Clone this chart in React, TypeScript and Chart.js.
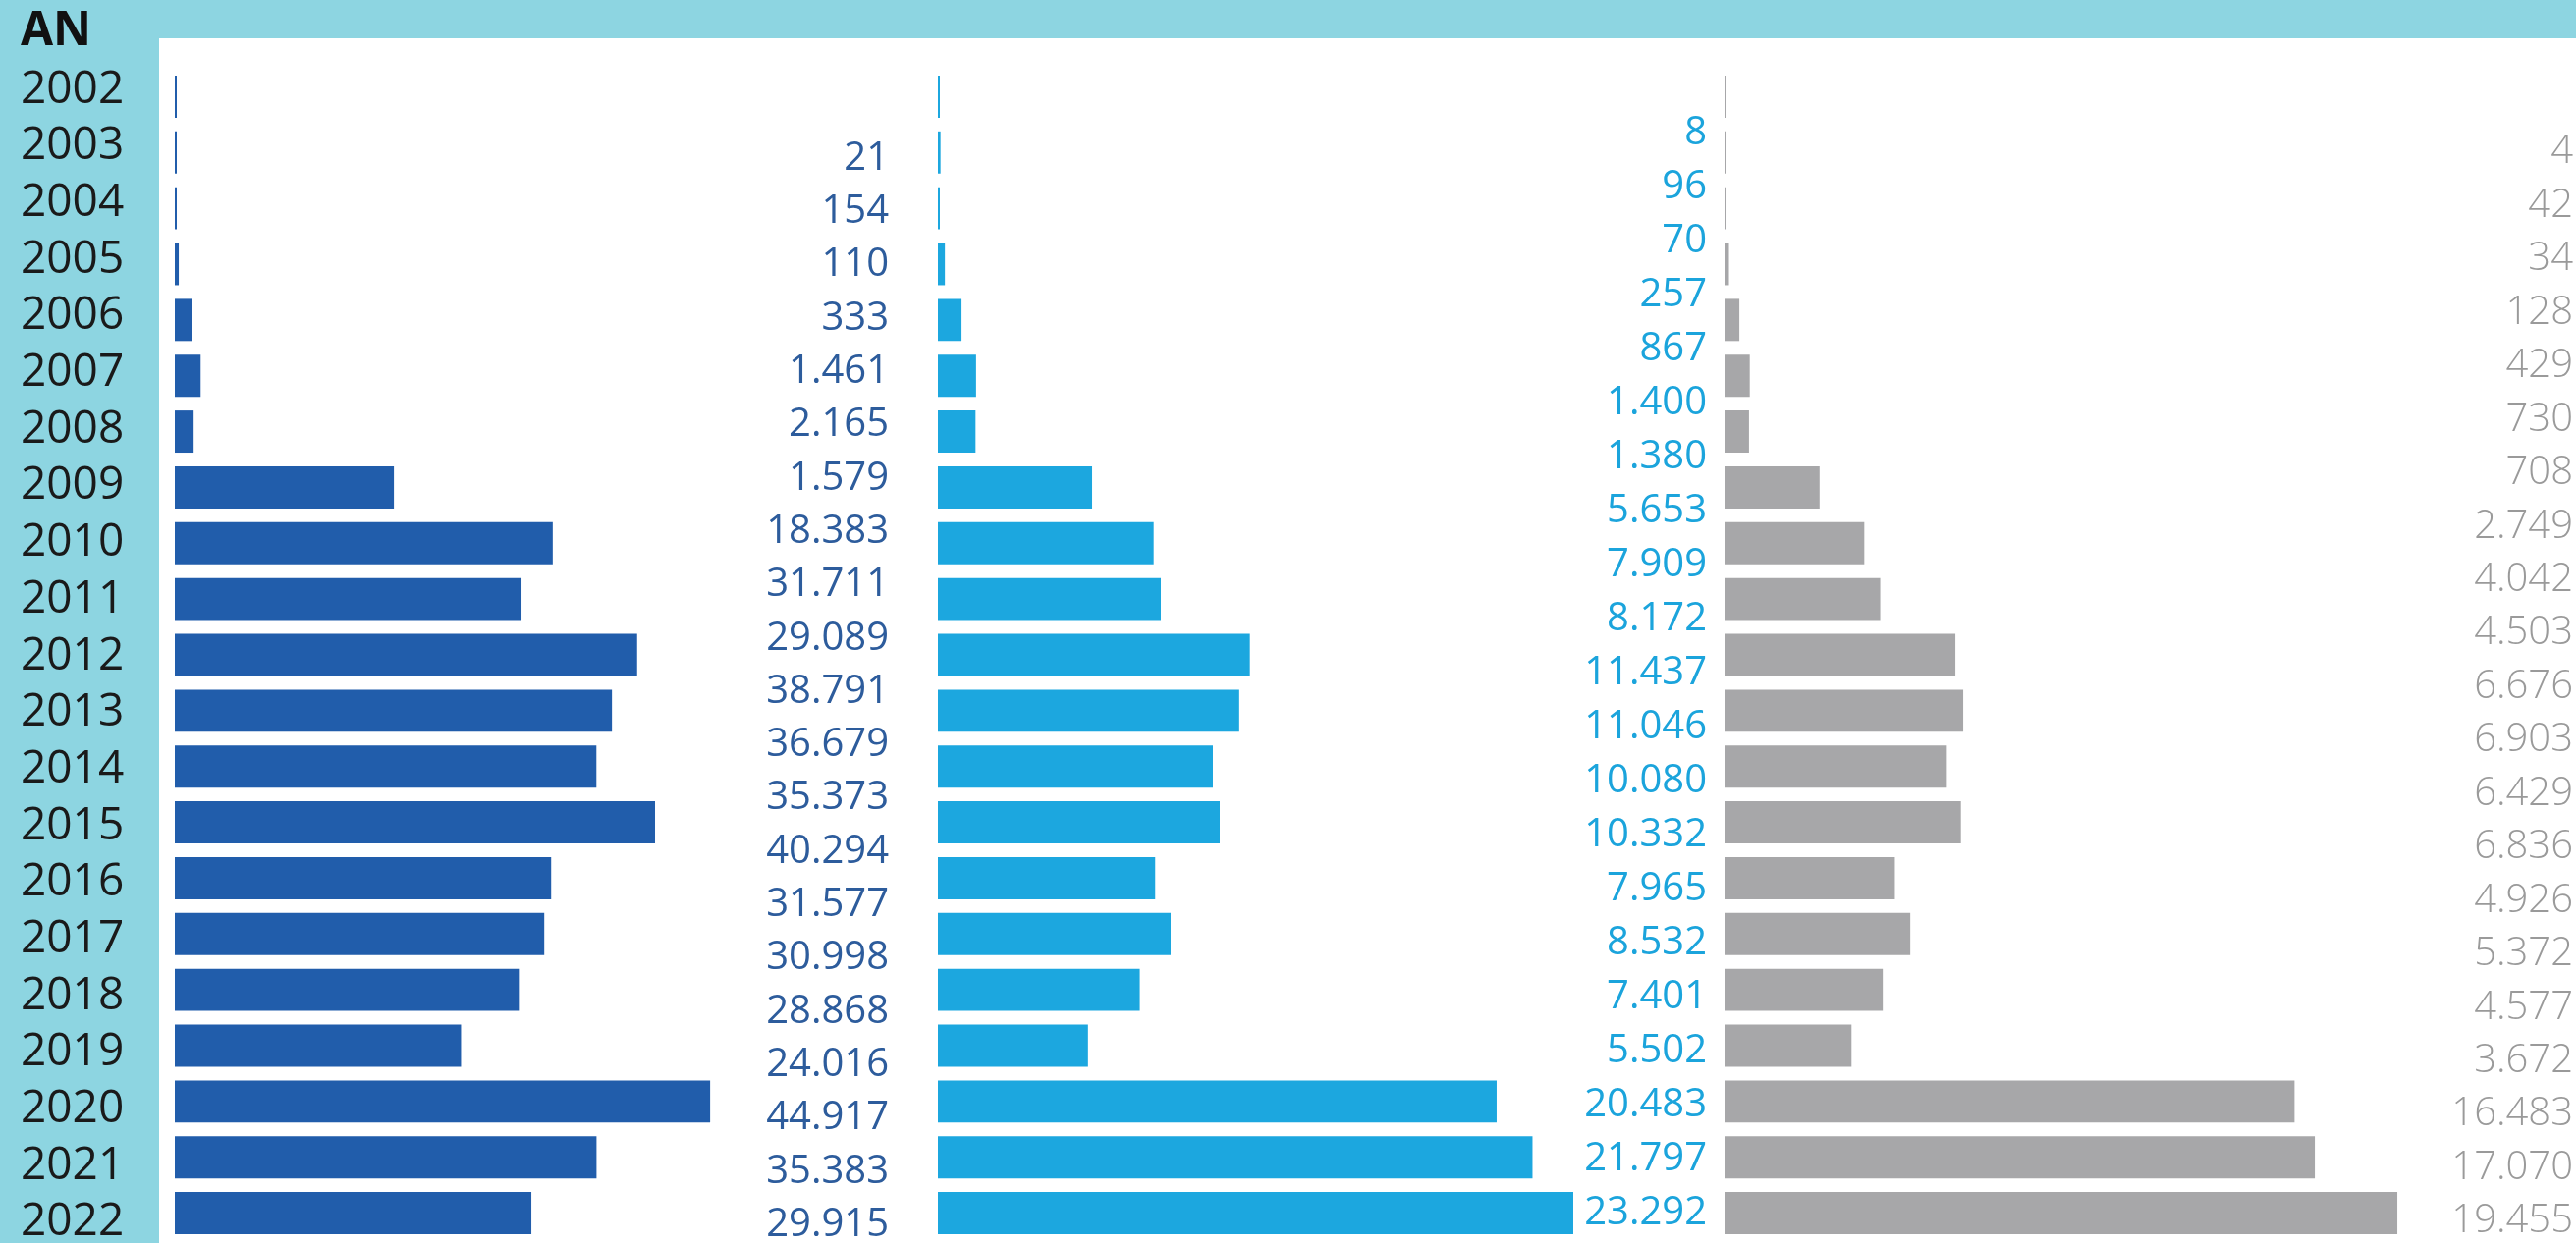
import React, { useEffect, useRef } from 'react';
import { Chart, registerables } from 'chart.js';

Chart.register(...registerables);

// ---------- data ----------
const years = [
  '2002', '2003', '2004', '2005', '2006', '2007', '2008', '2009', '2010', '2011', '2012',
  '2013', '2014', '2015', '2016', '2017', '2018', '2019', '2020', '2021', '2022',
];
const axisTitle = 'AN';
const seriesDarkBlue = [
  21, 154, 110, 333, 1461, 2165, 1579, 18383, 31711, 29089, 38791,
  36679, 35373, 40294, 31577, 30998, 28868, 24016, 44917, 35383, 29915,
];
const seriesLightBlue = [
  8, 96, 70, 257, 867, 1400, 1380, 5653, 7909, 8172, 11437,
  11046, 10080, 10332, 7965, 8532, 7401, 5502, 20483, 21797, 23292,
];
const seriesGrey = [
  4, 42, 34, 128, 429, 730, 708, 2749, 4042, 4503, 6676,
  6903, 6429, 6836, 4926, 5372, 4577, 3672, 16483, 17070, 19455,
];

// ---------- layout / style ----------
const W = 2623;
const H = 1266;
const FONT = "'Open Sans', 'Noto Sans', 'DejaVu Sans', sans-serif";
const AREA_TOP = 70;
const AREA_BOTTOM_PAD = 2;
const AREA_H = H - AREA_TOP - AREA_BOTTOM_PAD;
const YEAR_TEXT_X = 21;
const YEAR_AXIS_RIGHT = 178;
const YEAR_FIRST_Y = 91.7;
const YEAR_STEP = 57.67;

const fmt = (v: number) => String(v).replace(/\B(?=(\d{3})+(?!\d))/g, '.');

const panels = [
  {
    values: seriesDarkBlue, left: 0, width: 955, withYears: true, unitsPerPx: 82.4,
    bar: '#215DAB', text: '#2D5C9C', weight: '400',
    labelRight: 905, labelTop: 161.5, labelStep: 54.3,
  },
  {
    values: seriesLightBlue, left: 955, width: 801, withYears: false, unitsPerPx: 36.0,
    bar: '#1CA7DF', text: '#1BA4DC', weight: '400',
    labelRight: 783, labelTop: 136, labelStep: 55,
  },
  {
    values: seriesGrey, left: 1756, width: 867, withYears: false, unitsPerPx: 28.4,
    bar: '#A7A7A9', text: '#9A9A9A', weight: '300',
    labelRight: 864, labelTop: 155, labelStep: 54.45,
  },
];

const valueLabels = {
  id: 'valueLabels',
  afterDatasetsDraw(chart: any, _args: any, opts: any) {
    const { ctx } = chart;
    const scale = chart.scales.lab;
    const data: number[] = chart.data.datasets[0].data;
    ctx.save();
    ctx.font = `${opts.weight} ${opts.size}px ${FONT}`;
    ctx.fillStyle = opts.color;
    ctx.textAlign = 'right';
    ctx.textBaseline = 'middle';
    data.forEach((v, i) => {
      ctx.fillText(fmt(v), opts.x, scale.getPixelForValue(i));
    });
    ctx.restore();
  },
};

const cornerTitle = {
  id: 'cornerTitle',
  afterDraw(chart: any, _args: any, opts: any) {
    if (!opts || !opts.text) return;
    const { ctx } = chart;
    ctx.save();
    ctx.font = `700 48px ${FONT}`;
    ctx.fillStyle = '#111111';
    ctx.textAlign = 'left';
    ctx.textBaseline = 'middle';
    ctx.fillText(opts.text, YEAR_TEXT_X, 32.5);
    ctx.restore();
  },
};

function buildConfig(p: (typeof panels)[number]): any {
  const areaWidth = p.withYears ? p.width - YEAR_AXIS_RIGHT : p.width;
  const labMin = (AREA_TOP - p.labelTop) / p.labelStep;
  const labMax = labMin + AREA_H / p.labelStep;
  const yrMin = (AREA_TOP - YEAR_FIRST_Y) / YEAR_STEP;
  const yrMax = yrMin + AREA_H / YEAR_STEP;

  const scales: any = {
    x: { type: 'linear', display: false, min: 0, max: areaWidth * p.unitsPerPx },
    y: { type: 'category', display: false, grid: { display: false } },
    lab: {
      type: 'linear', display: false, reverse: true, offset: false, bounds: 'data',
      min: labMin, max: labMax, position: 'right',
    },
  };
  if (p.withYears) {
    scales.yr = {
      type: 'linear',
      position: 'left',
      reverse: true,
      offset: false,
      bounds: 'data',
      min: yrMin,
      max: yrMax,
      grid: { display: false, drawTicks: false, offset: false },
      border: { display: false },
      afterBuildTicks: (axis: any) => {
        axis.ticks = years.map((_, i) => ({ value: i }));
      },
      afterFit: (axis: any) => {
        axis.width = YEAR_AXIS_RIGHT - YEAR_TEXT_X;
        axis.paddingTop = 0;
        axis.paddingBottom = 0;
      },
      ticks: {
        autoSkip: false,
        crossAlign: 'far',
        padding: 0,
        color: '#1A1A1A',
        font: { family: FONT, size: 46, weight: '400' },
        callback: (v: number) => years[v] ?? '',
      },
    };
  }

  return {
    type: 'bar',
    data: {
      labels: years,
      datasets: [
        {
          data: p.values,
          backgroundColor: p.bar,
          borderWidth: 0,
          barPercentage: 0.755,
          categoryPercentage: 1,
          minBarLength: 2,
          xAxisID: 'x',
          yAxisID: 'y',
        },
      ],
    },
    options: {
      indexAxis: 'y',
      responsive: false,
      animation: false,
      events: [],
      layout: {
        padding: { left: p.withYears ? YEAR_TEXT_X : 0, right: 0, top: AREA_TOP, bottom: AREA_BOTTOM_PAD },
      },
      scales,
      plugins: {
        legend: { display: false },
        tooltip: { enabled: false },
        valueLabels: { x: p.labelRight, color: p.text, size: 40, weight: p.weight },
        cornerTitle: { text: p.withYears ? axisTitle : '' },
      },
    },
    plugins: [valueLabels, cornerTitle],
  };
}

export default function App() {
  const refs = [useRef<HTMLCanvasElement>(null), useRef<HTMLCanvasElement>(null), useRef<HTMLCanvasElement>(null)];

  useEffect(() => {
    const charts = panels.map((p, i) => new Chart(refs[i].current as HTMLCanvasElement, buildConfig(p)));
    return () => charts.forEach((c) => c.destroy());
  }, []);

  return (
    <div
      style={{
        position: 'absolute', left: 0, top: 0, width: W, height: H,
        background: '#8DD5E1', overflow: 'hidden',
      }}
    >
      <div style={{ position: 'absolute', left: 162, top: 39, right: 0, bottom: 0, background: '#FFFFFF' }} />
      {panels.map((p, i) => (
        <canvas
          key={i}
          ref={refs[i]}
          width={p.width}
          height={H}
          style={{ position: 'absolute', left: p.left, top: 0, width: p.width, height: H, display: 'block' }}
        />
      ))}
    </div>
  );
}
